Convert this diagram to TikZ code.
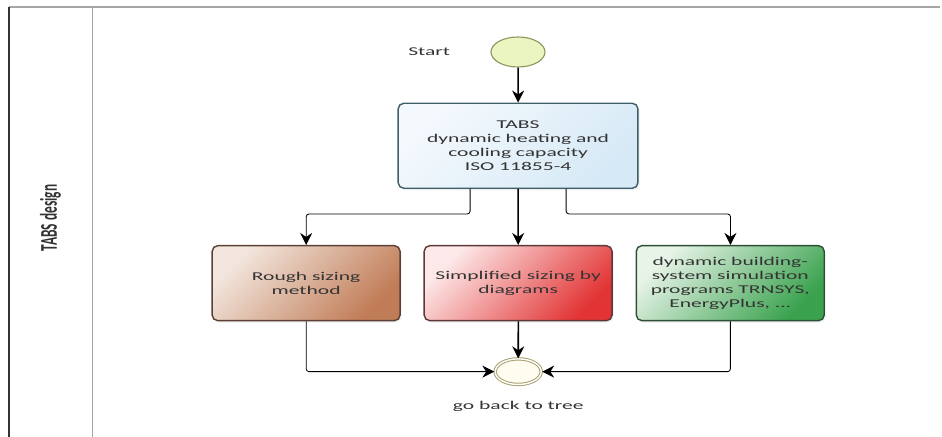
\documentclass[tikz,border=0pt]{standalone}
\usepackage{fontspec}
\setmainfont{Carlito}
\usetikzlibrary{positioning,arrows.meta,shadows}

\definecolor{txtgray}{HTML}{333333}
\definecolor{startfill}{HTML}{EAF5C2}
\definecolor{startline}{HTML}{8C9A60}
\definecolor{endfill}{HTML}{FFFDF0}
\definecolor{endline}{HTML}{A8A070}
\definecolor{tabsA}{HTML}{F4F9FD}
\definecolor{tabsB}{HTML}{D6E9F6}
\definecolor{tabsline}{HTML}{3E5F6A}
\definecolor{roughA}{HTML}{F3E6DE}
\definecolor{roughB}{HTML}{C07C56}
\definecolor{roughline}{HTML}{5B4036}
\definecolor{simplA}{HTML}{FDE9E9}
\definecolor{simplB}{HTML}{E23434}
\definecolor{simplline}{HTML}{5E3838}
\definecolor{dynA}{HTML}{E8F4E8}
\definecolor{dynB}{HTML}{3AA24E}
\definecolor{dynline}{HTML}{2F4F34}

\begin{document}
\begin{tikzpicture}[xscale=1.8, transform shape,
  node distance=8.75mm and 3mm,
  font=\fontsize{8.5}{10}\selectfont, text=txtgray,
  box/.style={draw, rounded corners=4pt, line width=1pt, align=center,
    minimum width=26.1mm, minimum height=18.75mm, inner sep=2pt,
    drop shadow={opacity=0.12, shadow xshift=0.4mm, shadow yshift=-0.5mm}},
  flow/.style={-{Stealth[length=3mm,width=3mm]}, line width=1.1pt},
  side/.style={-{Stealth[length=3mm,width=3mm]}, line width=0.6pt, rounded corners=2pt},
  event/.style={circle, draw, inner sep=0pt}]
  \useasboundingbox (0,0) rectangle (13.0833,-10.925);
  % pool and lane
  \draw[gray!70, line width=0.9pt] (0.125,-0.175) -- (13.06,-0.175);
  \draw[black!80, line width=1.2pt] (0.125,-0.175) -- (0.125,-10.925);
  \draw[gray!70, line width=0.7pt] (1.278,-0.175) -- (1.278,-10.925);
  \node[rotate=90, font=\fontsize{9.5}{11}\selectfont\bfseries] (lane) at (0.7,-5.45) {TABS design};

  % events and tasks
  \node[event, minimum size=7.5mm, fill=startfill, draw=startline, line width=0.8pt,
    label={[label distance=4.3mm]left:Start}] (start) at (7.194,-1.3) {};
  \node[box, below=of start, minimum width=33.3mm, minimum height=21.25mm,
    top color=tabsA, bottom color=tabsB, shading angle=45, draw=tabsline] (tabs)
    {TABS\\dynamic heating and\\cooling capacity\\ISO 11855-4};
  \node[box, below=14mm of tabs, top color=simplA, middle color=simplA!65!simplB,
    bottom color=simplB, shading angle=45, draw=simplline] (simpl) {Simplified sizing by\\diagrams};
  \node[box, left=of simpl, top color=roughA, middle color=roughA!65!roughB,
    bottom color=roughB, shading angle=45, draw=roughline] (rough) {Rough sizing\\method};
  \node[box, right=of simpl, top color=dynA, middle color=dynA!65!dynB,
    bottom color=dynB, shading angle=45, draw=dynline] (dyn)
    {dynamic building-\\system simulation\\programs TRNSYS,\\EnergyPlus, ...};
  \node[event, minimum size=6.4mm, double, double distance=1pt, line width=0.7pt,
    draw=endline, fill=endfill, below=9.25mm of simpl,
    label={[label distance=2.8mm]below:go back to tree}] (end) {};

  % flows
  \draw[flow] (start) -- (tabs);
  \draw[flow] (tabs) -- (simpl);
  \draw[flow] (simpl) -- (end);
  \draw[side] ([xshift=-6.67mm]tabs.south) -- ++(0,-6.25mm) -| (rough);
  \draw[side] ([xshift=6.67mm]tabs.south) -- ++(0,-6.25mm) -| (dyn);
  \draw[side] (rough) |- (end);
  \draw[side] (dyn) |- (end);
\end{tikzpicture}
\end{document}
